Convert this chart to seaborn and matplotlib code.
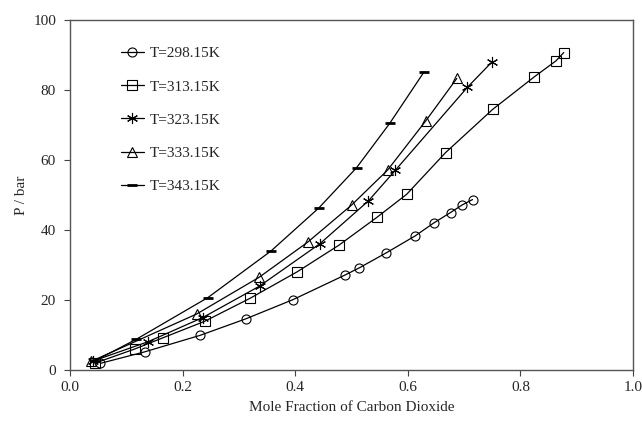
import numpy as np
import pandas as pd
import seaborn as sns
import matplotlib.pyplot as plt

# Mole fraction of CO2 (x) and pressure in bar (P) for each temperature
x_298 = [0.054, 0.133, 0.231, 0.312, 0.396, 0.488, 0.514, 0.562, 0.613, 0.646, 0.676, 0.697, 0.715]
p_298 = [1.9, 5.2, 9.9, 14.6, 20.1, 27.1, 29.2, 33.5, 38.3, 42.0, 45.0, 47.2, 48.7]

x_313 = [0.045, 0.115, 0.165, 0.239, 0.320, 0.404, 0.478, 0.545, 0.598, 0.667, 0.751, 0.825, 0.863, 0.877]
p_313 = [2.0, 6.0, 9.2, 13.9, 20.5, 28.1, 35.7, 43.6, 50.2, 62.1, 74.5, 83.8, 88.3, 90.7]

x_323 = [0.040, 0.139, 0.236, 0.337, 0.444, 0.530, 0.578, 0.706, 0.750]
p_323 = [2.5, 8.1, 15.0, 24.0, 36.1, 48.3, 57.1, 80.8, 88.1]

x_333 = [0.038, 0.225, 0.336, 0.422, 0.500, 0.564, 0.632, 0.687]
p_333 = [2.5, 16.0, 26.5, 36.5, 47.1, 57.1, 71.2, 83.3]

x_343 = [0.045, 0.118, 0.245, 0.357, 0.442, 0.509, 0.568, 0.629]
p_343 = [2.7, 8.8, 20.7, 34.0, 46.3, 57.8, 70.5, 85.2]

labels = ['T=298.15K', 'T=313.15K', 'T=323.15K', 'T=333.15K', 'T=343.15K']

frames = []
for lab, xs, ps in zip(labels, [x_298, x_313, x_323, x_333, x_343],
                       [p_298, p_313, p_323, p_333, p_343]):
    frames.append(pd.DataFrame({'x': xs, 'P': ps, 'T': lab}))
df = pd.concat(frames, ignore_index=True)

sns.set_style('ticks')
plt.rcParams['font.family'] = ['Liberation Serif', 'DejaVu Serif']
plt.rcParams['font.size'] = 11

fig = plt.figure(figsize=(6.42, 4.25), dpi=100)
ax = fig.add_axes([70 / 642, 1 - 370 / 425, 563 / 642, 350 / 425])

marker_map = {
    'T=298.15K': 'o',
    'T=313.15K': 's',
    'T=323.15K': (6, 2, 0),
    'T=333.15K': '^',
    'T=343.15K': '_',
}
sizes = {'T=298.15K': 6.5, 'T=313.15K': 6.5, 'T=323.15K': 8,
         'T=333.15K': 7, 'T=343.15K': 7}

for lab in labels:
    sub = df[df['T'] == lab]
    mew = 2.0 if lab == 'T=343.15K' else 0.8
    sns.lineplot(data=sub, x='x', y='P', ax=ax, color='black', lw=0.9,
                 marker=marker_map[lab], markersize=sizes[lab],
                 markerfacecolor='none', markeredgecolor='black',
                 markeredgewidth=mew, sort=False, legend=False)

ax.set_xlim(0, 1.0)
ax.set_ylim(0, 100)
ax.set_xticks(np.arange(0, 1.01, 0.2))
ax.set_xticklabels(['0.0', '0.2', '0.4', '0.6', '0.8', '1.0'])
ax.set_yticks(np.arange(0, 101, 20))
ax.tick_params(direction='out', length=4, width=0.8, color='#444444',
               labelsize=11)
ax.tick_params(axis='x', pad=4)
ax.tick_params(axis='y', pad=6)
for s in ax.spines.values():
    s.set_visible(True)
    s.set_color('#555555')
    s.set_linewidth(1.0)

ax.set_xlabel('Mole Fraction of Carbon Dioxide', fontsize=11, labelpad=5)
ax.set_ylabel('P / bar', fontsize=11, labelpad=4)

ax.legend(handles=ax.lines[:5], labels=labels, loc='upper left',
          bbox_to_anchor=(0.09, 0.924), frameon=False, borderpad=0,
          borderaxespad=0, handlelength=1.5, handletextpad=0.4,
          labelspacing=1.28, fontsize=11)

plt.savefig('out.png', dpi=100)
